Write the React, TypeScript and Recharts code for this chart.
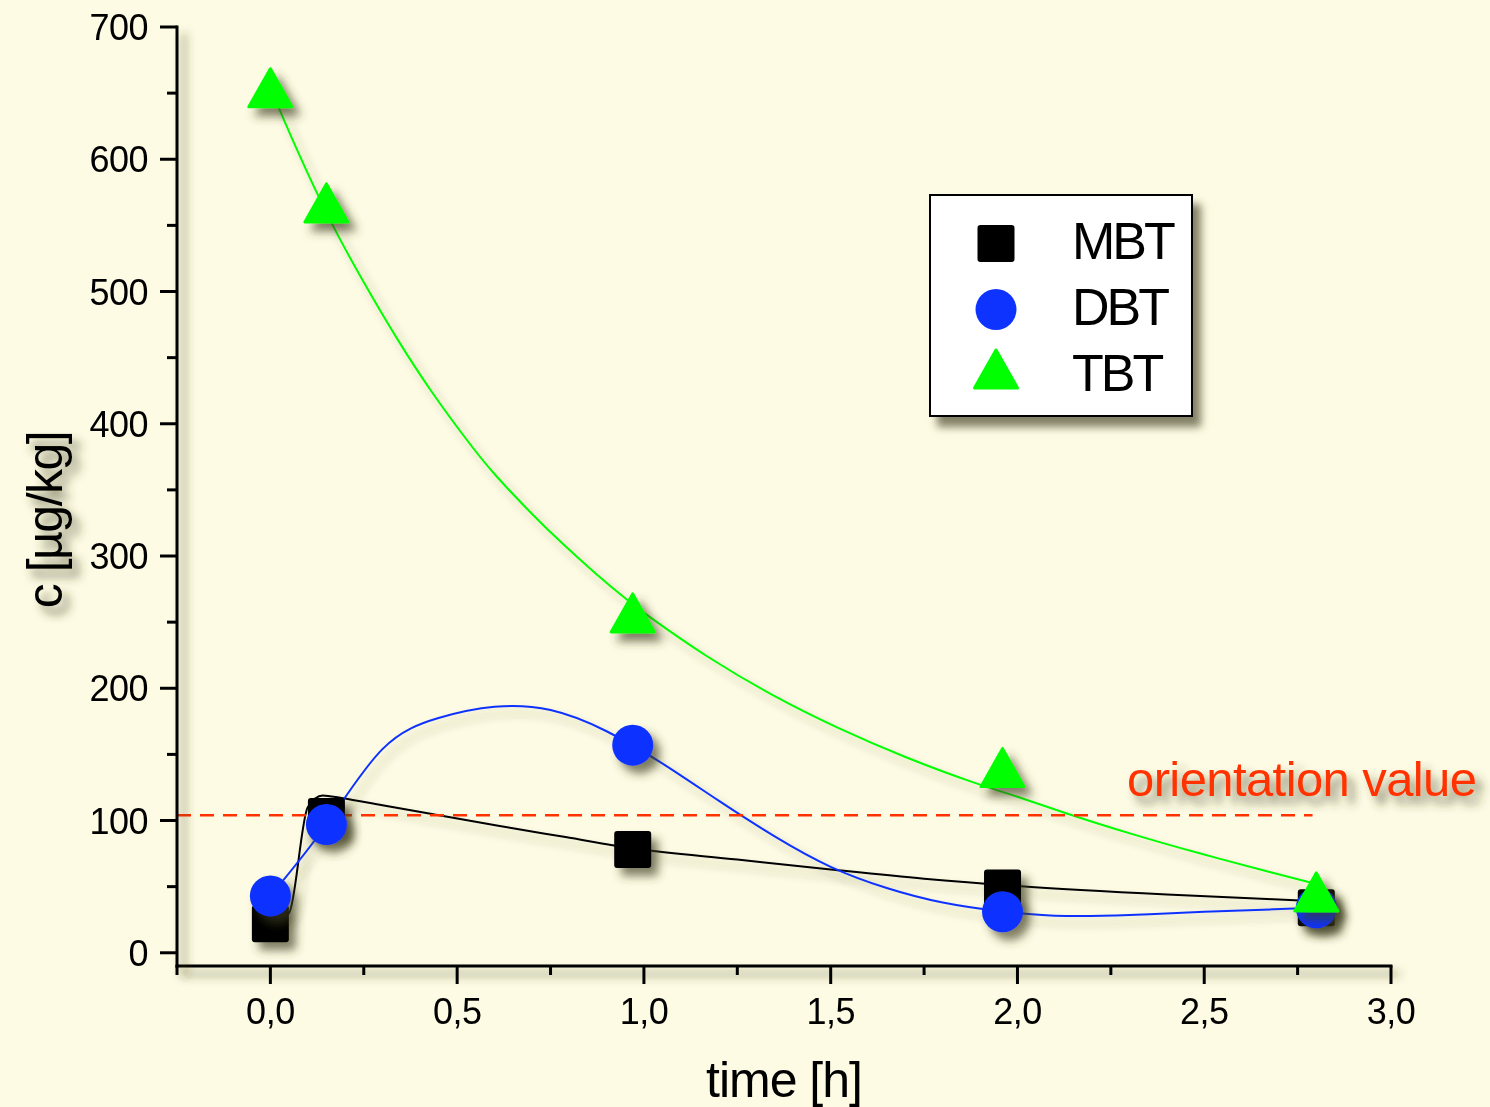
import React from "react";
import { ComposedChart, Line, Scatter, XAxis, YAxis, ReferenceLine } from "recharts";

const FONT = '"Liberation Sans", Arial, sans-serif';
const BG = "#fdfbe3";
const BLUE = "#0f33ff";
const GREEN = "#00ff00";
const RED = "#ff3300";

// measured points
const sampleTimes = [0, 0.15, 0.97, 1.96, 2.8];
const mbtValues = [22, 103, 78, 49, 34];
const dbtValues = [43, 97, 157, 31, 34];
const tbtValues = [654, 567, 257, 140, 46];

// drawn curves
const mbtCurveX = [0, 0.05, 0.1, 0.14, 0.19, 0.3, 0.44, 0.61, 0.79, 0.97, 1.25, 1.5, 1.75, 2.0, 2.4, 2.8];
const mbtCurveY = [22, 30, 110, 119, 117, 111.5, 104.5, 96, 87.5, 79, 70.5, 63, 56, 50.5, 44, 39];
const dbtCurveX = [0, 0.15, 0.3, 0.45, 0.6, 0.75, 0.9, 1.05, 1.2, 1.35, 1.5, 1.65, 1.8, 1.95, 2.1, 2.3, 2.5, 2.8];
const dbtCurveY = [43, 97, 154, 177.5, 186, 183.5, 167.5, 143, 115, 88, 65, 49, 38, 31.5, 28, 28.5, 31, 34];
const tbtCurveX = [0, 0.07, 0.16, 0.25, 0.34, 0.43, 0.52, 0.6, 0.7, 0.78, 0.87, 0.95, 1.02, 1.17, 1.35, 1.52, 1.7, 1.88, 2.0, 2.13, 2.31, 2.49, 2.67, 2.8];
const tbtCurveY = [654, 608, 554, 507, 464, 425, 390, 362, 332, 310, 287, 268, 253, 224, 194, 170, 148, 129, 118, 105.5, 89.5, 75, 61.5, 52];

const xTicks = [-0.25, 0, 0.25, 0.5, 0.75, 1, 1.25, 1.5, 1.75, 2, 2.25, 2.5, 2.75, 3];
const yTicks = [0, 50, 100, 150, 200, 250, 300, 350, 400, 450, 500, 550, 600, 650, 700];
const orientationValue = 104;
const orientationEnd = 2.79;

const toPts = (xs: number[], ys: number[]) => xs.map((x, i) => ({ x, y: ys[i] }));

function XTick({ x, y, payload }: any) {
  const v = payload.value;
  const major = Math.abs(v * 2 - Math.round(v * 2)) < 1e-6;
  return (
    <g>
      <line x1={x} x2={x} y1={y} y2={y + (major ? 18 : 9)} stroke="#000" strokeWidth={3} />
      {major && (
        <text x={x} y={y + 58} textAnchor="middle" fontSize={36} fontFamily={FONT} letterSpacing={-0.5} fill="#000">
          {v.toFixed(1).replace(".", ",")}
        </text>
      )}
    </g>
  );
}

function YTick({ x, y, payload }: any) {
  const v = payload.value;
  const major = v % 100 === 0;
  return (
    <g>
      <line x1={x} x2={x - (major ? 17 : 10)} y1={y} y2={y} stroke="#000" strokeWidth={3} />
      {major && (
        <text x={x - 29} y={y + 13} textAnchor="end" fontSize={36} fontFamily={FONT} letterSpacing={-0.5} fill="#000">
          {v}
        </text>
      )}
    </g>
  );
}

const SquareMark = ({ cx, cy }: any) => (
  <rect x={cx - 18.5} y={cy - 18.5} width={37} height={37} rx={3} fill="#000" filter="url(#sh)" />
);
const CircleMark = ({ cx, cy }: any) => <circle cx={cx} cy={cy} r={20.5} fill={BLUE} filter="url(#sh)" />;
const TriMark = ({ cx, cy }: any) => (
  <polygon
    points={`${cx},${cy - 19} ${cx - 21.5},${cy + 19} ${cx + 21.5},${cy + 19}`}
    fill={GREEN}
    stroke={GREEN}
    strokeWidth={3}
    strokeLinejoin="round"
    filter="url(#sh)"
  />
);

function LegendBox() {
  const rows = [
    { name: "MBT", icon: <rect x={46.5} y={29} width={37} height={37} rx={3} fill="#000" /> },
    { name: "DBT", icon: <circle cx={65} cy={113.5} r={20.5} fill={BLUE} /> },
    {
      name: "TBT",
      icon: (
        <polygon points="65,154 43.5,192 86.5,192" fill={GREEN} stroke={GREEN} strokeWidth={3} strokeLinejoin="round" />
      ),
    },
  ];
  return (
    <div
      style={{
        position: "absolute",
        left: 929,
        top: 194,
        width: 260,
        height: 219,
        border: "2px solid #000",
        background: "#fff",
        boxShadow: "8px 10px 8px rgba(50,50,20,0.6)",
      }}
    >
      <svg width={260} height={219} style={{ position: "absolute", left: 0, top: 0 }}>
        {rows.map((r, i) => (
          <g key={r.name}>
            {r.icon}
            <text x={141} y={63 + i * 66} fontSize={52} fontFamily={FONT} letterSpacing={-3} fill="#000">
              {r.name}
            </text>
          </g>
        ))}
      </svg>
    </div>
  );
}

export default function App() {
  return (
    <div style={{ position: "relative", width: 1490, height: 1107, background: BG, overflow: "hidden" }}>
      <style>{`
        body { margin: 0; }
        .recharts-cartesian-axis { filter: url(#sh); }
        .fitline { filter: url(#shl); }
      `}</style>
      <svg width={0} height={0} style={{ position: "absolute" }}>
        <defs>
          <filter id="sh" filterUnits="userSpaceOnUse" x={0} y={0} width={1490} height={1107}>
            <feGaussianBlur in="SourceAlpha" stdDeviation={5} />
            <feOffset dx={7} dy={8} result="b" />
            <feFlood floodColor="#3c3c1e" floodOpacity={0.65} />
            <feComposite in2="b" operator="in" />
            <feMerge>
              <feMergeNode />
              <feMergeNode in="SourceGraphic" />
            </feMerge>
          </filter>
          <filter id="shl" filterUnits="userSpaceOnUse" x={0} y={0} width={1490} height={1107}>
            <feGaussianBlur in="SourceAlpha" stdDeviation={4} />
            <feOffset dx={6} dy={7} result="b" />
            <feFlood floodColor="#3c3c1e" floodOpacity={0.35} />
            <feComposite in2="b" operator="in" />
            <feMerge>
              <feMergeNode />
              <feMergeNode in="SourceGraphic" />
            </feMerge>
          </filter>
        </defs>
      </svg>
      <ComposedChart width={1490} height={1107} margin={{ top: 27, right: 99, bottom: 0, left: 0 }}>
        <XAxis
          dataKey="x"
          type="number"
          domain={[-0.25, 3]}
          ticks={xTicks}
          interval={0}
          allowDataOverflow
          height={141}
          tickSize={0}
          tickMargin={0}
          tickLine={false}
          tick={<XTick />}
          axisLine={{ stroke: "#000", strokeWidth: 3, strokeLinecap: "square" }}
          label={{
            value: "time [h]",
            position: "insideBottom",
            offset: 10,
            fontSize: 50,
            fontFamily: FONT,
            letterSpacing: -1,
            fill: "#000",
          }}
        />
        <YAxis
          type="number"
          domain={[-10, 700]}
          ticks={yTicks}
          interval={0}
          allowDataOverflow
          width={177}
          tickSize={0}
          tickMargin={0}
          tickLine={false}
          tick={<YTick />}
          axisLine={{ stroke: "#000", strokeWidth: 3, strokeLinecap: "square" }}
          label={{
            content: () => (
              <text
                transform="translate(62,520) rotate(-90)"
                textAnchor="middle"
                fontSize={50}
                fontFamily={FONT}
                letterSpacing={-1.5}
                fill="#000"
              >
                c [µg/kg]
              </text>
            ),
          }}
        />
        <Scatter data={toPts(sampleTimes, mbtValues)} dataKey="y" shape={SquareMark} isAnimationActive={false} />
        <Scatter data={toPts(sampleTimes, dbtValues)} dataKey="y" shape={CircleMark} isAnimationActive={false} />
        <Scatter data={toPts(sampleTimes, tbtValues)} dataKey="y" shape={TriMark} isAnimationActive={false} />
        <Line
          className="fitline"
          data={toPts(tbtCurveX, tbtCurveY)}
          dataKey="y"
          type="natural"
          stroke={GREEN}
          strokeWidth={2}
          dot={false}
          activeDot={false}
          isAnimationActive={false}
        />
        <Line
          className="fitline"
          data={toPts(mbtCurveX, mbtCurveY)}
          dataKey="y"
          type="monotoneX"
          stroke="#000"
          strokeWidth={2}
          dot={false}
          activeDot={false}
          isAnimationActive={false}
        />
        <Line
          className="fitline"
          data={toPts(dbtCurveX, dbtCurveY)}
          dataKey="y"
          type="natural"
          stroke={BLUE}
          strokeWidth={2}
          dot={false}
          activeDot={false}
          isAnimationActive={false}
        />
        <ReferenceLine
          segment={[
            { x: -0.25, y: orientationValue },
            { x: orientationEnd, y: orientationValue },
          ]}
          stroke={RED}
          strokeWidth={2.5}
          strokeDasharray="14 9"
          label={{
            content: () => (
              <text x={1127} y={796} fontSize={49} fontFamily={FONT} letterSpacing={-0.6} fill={RED} filter="url(#sh)">
                orientation value
              </text>
            ),
          }}
        />
      </ComposedChart>
      <LegendBox />
    </div>
  );
}
